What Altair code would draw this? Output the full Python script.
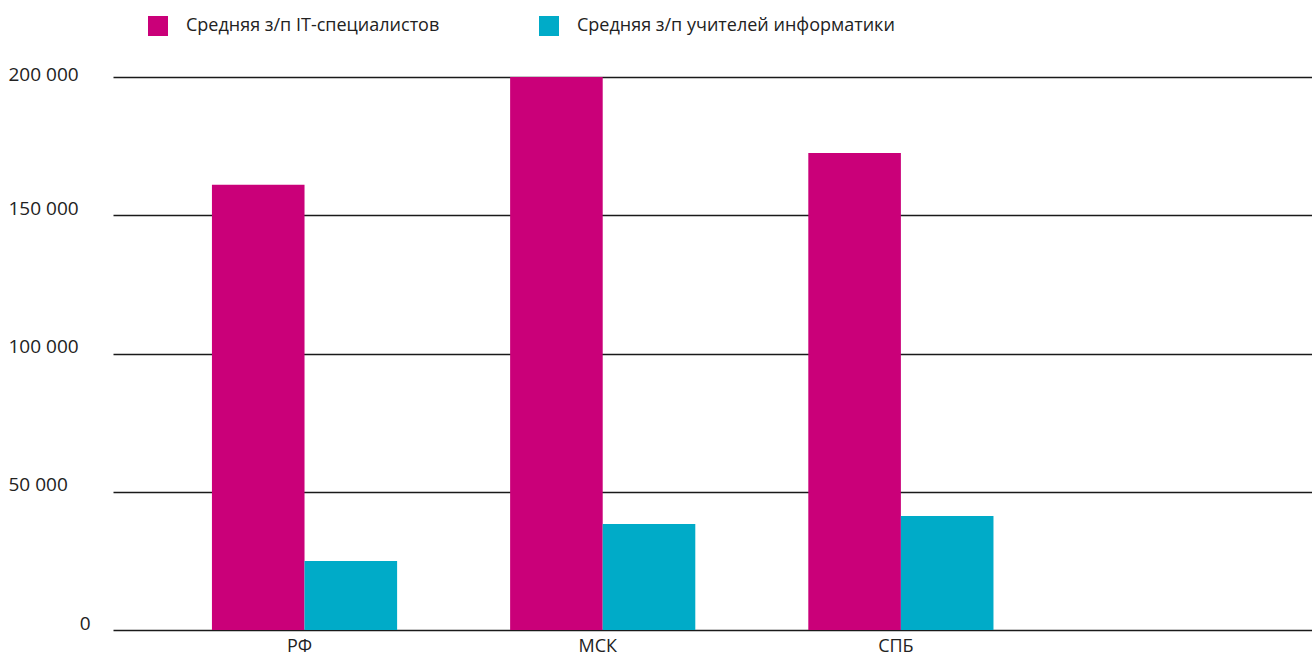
import altair as alt
import pandas as pd

regions = ["РФ", "МСК", "СПБ"]
series = ["Средняя з/п IT-специалистов", "Средняя з/п учителей информатики"]
it_salary = [161000, 200000, 172500]
teacher_salary = [25000, 38300, 41200]
colors = ["#CA0079", "#00ABC8"]
y_ticks = [0, 50000, 100000, 150000, 200000]

FONT = "Open Sans"

rows = []
for r, v in zip(regions, it_salary):
    rows.append({"region": r, "series": series[0], "value": v})
for r, v in zip(regions, teacher_salary):
    rows.append({"region": r, "series": series[1], "value": v})
df = pd.DataFrame(rows)

chart = alt.Chart(df).mark_bar().encode(
    x=alt.X(
        "region:N",
        sort=regions,
        scale=alt.Scale(paddingInner=0.379, paddingOuter=0.70, align=0.237),
        axis=alt.Axis(
            title=None, labelAngle=0, domain=False, ticks=False,
            labelPadding=7, labelFontSize=18, labelOffset=-5,
            labelColor="#222222", labelFont=FONT,
        ),
    ),
    xOffset=alt.XOffset(
        "series:N", sort=series,
        scale=alt.Scale(paddingInner=0, paddingOuter=0),
    ),
    y=alt.Y(
        "value:Q",
        scale=alt.Scale(domain=[0, 200000], nice=False),
        axis=alt.Axis(
            title=None, values=y_ticks, domain=False, ticks=False,
            grid=True, gridColor="#1a1a1a", gridWidth=1.5,
            labelExpr="replace(format(datum.value, ',d'), ',', ' ')",
            labelFontSize=19, labelFont=FONT, labelColor="#222222",
            labelBaseline="alphabetic",
            labelAlign={"condition": {"test": "datum.value === 0", "value": "right"}, "value": "left"},
            labelPadding={"condition": {"test": "datum.value === 0", "value": 23}, "value": 105},
            labelOffset={"condition": {"test": "datum.value === 200000", "value": 3}, "value": -1},
        ),
    ),
    color=alt.Color(
        "series:N", sort=series,
        scale=alt.Scale(domain=series, range=colors),
        legend=alt.Legend(
            title=None, orient="none", legendX=35, legendY=-61,
            direction="horizontal", symbolType="square", symbolSize=400,
            symbolStrokeWidth=0, symbolOpacity=1, labelFontSize=18,
            labelFont=FONT, labelColor="#222222", labelOffset=18,
            columnPadding=99, padding=0, labelLimit=0,
        ),
    ),
).properties(
    width=1199,
    height=553,
    padding={"left": 113, "top": 77, "right": 0, "bottom": 27},
    autosize="none",
).configure(font=FONT).configure_view(strokeWidth=0, stroke=None)

chart.save("out.html", embed_options={"renderer": "svg", "actions": False})
